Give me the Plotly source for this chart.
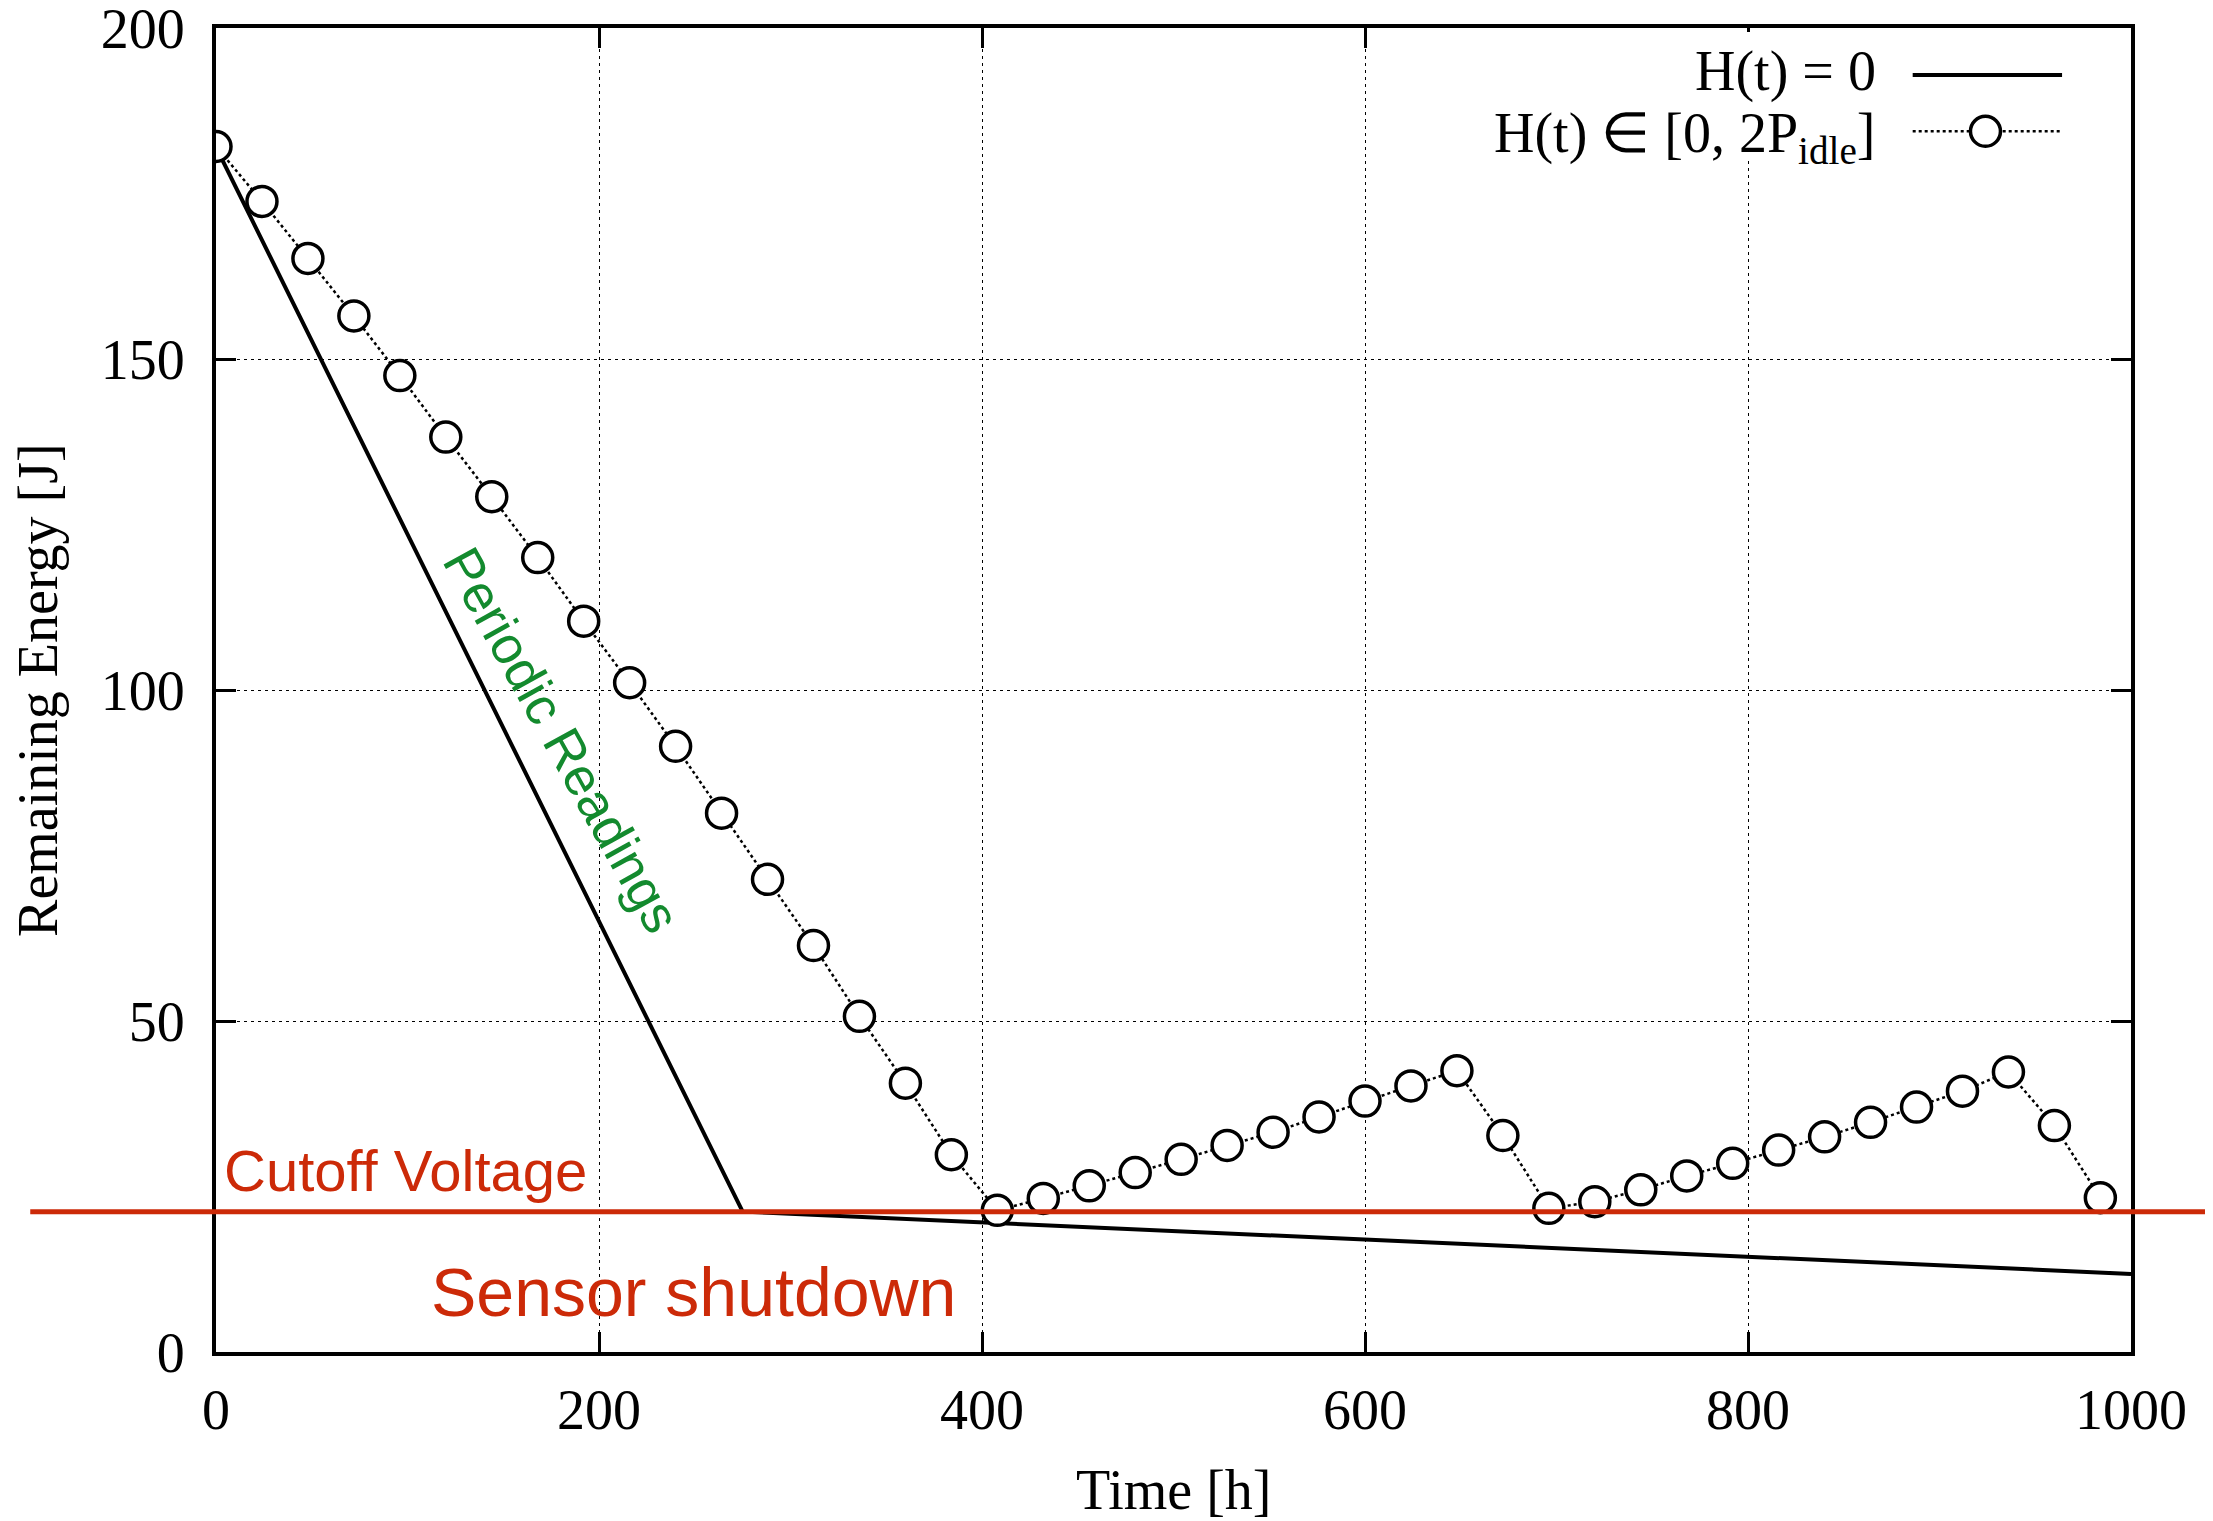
import plotly.graph_objects as go

# --- data ---
h0_time = [0, 275, 1000]
h0_energy = [182.0, 21.2, 11.8]

harv_time = [0, 24, 48, 72, 96, 120, 144, 168, 192, 216, 240, 264, 288, 312,
             336, 360, 384, 408, 432, 456, 480, 504, 528, 552, 576, 600, 624,
             648, 672, 696, 720, 744, 768, 792, 816, 840, 864, 888, 912, 936,
             960, 984]
harv_energy = [182.1, 173.8, 165.2, 156.5, 147.5, 138.2, 129.2, 120.0, 110.4,
               101.1, 91.5, 81.4, 71.4, 61.4, 50.7, 40.6, 29.8, 21.4, 23.2,
               25.1, 27.1, 29.1, 31.2, 33.2, 35.5, 37.9, 40.2, 42.5, 32.7,
               21.7, 22.7, 24.5, 26.6, 28.5, 30.5, 32.5, 34.7, 37.0, 39.4,
               42.3, 34.2, 23.3]

cutoff_voltage = 21.2

x_ticks = [0, 200, 400, 600, 800, 1000]
y_ticks = [0, 50, 100, 150, 200]

SERIF = "Liberation Serif, Times New Roman, serif"
SANS = "Liberation Sans, Arial, sans-serif"
RED = "#CC2A08"
GREEN = "#138A2E"

fig = go.Figure()

fig.add_trace(go.Scatter(
    x=h0_time, y=h0_energy, mode="lines", name="H(t) = 0",
    line=dict(color="black", width=4), showlegend=False))

fig.add_trace(go.Scatter(
    x=harv_time, y=harv_energy, mode="lines+markers",
    name="H(t) ∈ [0, 2P<sub>idle</sub>]",
    line=dict(color="black", width=2.5, dash="dot"),
    marker=dict(symbol="circle", size=30, color="white",
                line=dict(color="black", width=3.5)),
    showlegend=False))

# legend box (opaque, hides grid)
fig.add_shape(type="rect", xref="paper", yref="paper",
              x0=0.604, x1=0.996, y0=0.90, y1=0.997,
              fillcolor="white", line=dict(width=0), layer="above")

# cutoff line extending beyond the plot area
fig.add_shape(type="line", xref="paper", yref="y",
              x0=-0.097, x1=1.05, y0=cutoff_voltage, y1=cutoff_voltage,
              line=dict(color=RED, width=5), layer="above")

# legend samples
fig.add_shape(type="line", xref="paper", yref="paper",
              x0=0.886, x1=0.964, y0=0.9645, y1=0.9645,
              line=dict(color="black", width=4), layer="above")
fig.add_shape(type="line", xref="paper", yref="paper",
              x0=0.886, x1=0.964, y0=0.922, y1=0.922,
              line=dict(color="black", width=2.5, dash="dot"), layer="above")
fig.add_shape(type="circle", xref="paper", yref="paper",
              xsizemode="pixel", ysizemode="pixel",
              xanchor=0.924, yanchor=0.922,
              x0=-15, x1=15, y0=-15, y1=15,
              fillcolor="white", line=dict(color="black", width=3.5),
              layer="above")

annotations = [
    dict(text="H(t) = 0", xref="paper", yref="paper", x=0.868, y=0.967,
         xanchor="right", yanchor="middle", showarrow=False,
         font=dict(family=SERIF, size=56, color="black")),
    dict(text="H(t) ∈ [0, 2P<sub>idle</sub>]", xref="paper", yref="paper",
         x=0.868, y=0.918, xanchor="right", yanchor="middle", showarrow=False,
         font=dict(family=SERIF, size=56, color="black")),
    dict(text="Periodic Readings", x=180.5, y=92.5, xref="x", yref="y",
         textangle=61, showarrow=False,
         font=dict(family=SANS, size=53, color=GREEN)),
    dict(text="Cutoff Voltage", x=3, y=27.4, xref="x", yref="y",
         xanchor="left", yanchor="middle", showarrow=False,
         font=dict(family=SANS, size=58, color=RED)),
    dict(text="Sensor shutdown", x=111, y=9.0, xref="x", yref="y",
         xanchor="left", yanchor="middle", showarrow=False,
         font=dict(family=SANS, size=68, color=RED)),
    dict(text="Time [h]", xref="paper", yref="paper", x=0.5, y=-0.104,
         xanchor="center", yanchor="middle", showarrow=False,
         font=dict(family=SERIF, size=56, color="black")),
    dict(text="Remaining Energy [J]", xref="paper", yref="paper",
         x=-0.093, y=0.5, textangle=-90,
         xanchor="center", yanchor="middle", showarrow=False,
         font=dict(family=SERIF, size=56, color="black")),
]

axis_common = dict(
    showline=True, linecolor="black", linewidth=4, mirror="ticks",
    ticks="inside", ticklen=20, tickwidth=3, tickcolor="black",
    showgrid=True, gridcolor="black", gridwidth=1, griddash="3px,4px",
    zeroline=False, automargin=False, ticklabeloverflow="allow",
    tickfont=dict(family=SERIF, size=56, color="black"),
)

# page body adds an 8px offset; size/margins compensate for it
fig.update_layout(
    width=2205, height=1513,
    margin=dict(l=208, r=82, t=20, b=169),
    paper_bgcolor="white", plot_bgcolor="white",
    showlegend=False,
    annotations=annotations,
    xaxis=dict(range=[0, 1000], tickvals=x_ticks,
               ticklabelstandoff=6, **axis_common),
    yaxis=dict(range=[0, 200], tickvals=y_ticks,
               ticklabelstandoff=16, **axis_common),
)

fig.write_html("out.html")
